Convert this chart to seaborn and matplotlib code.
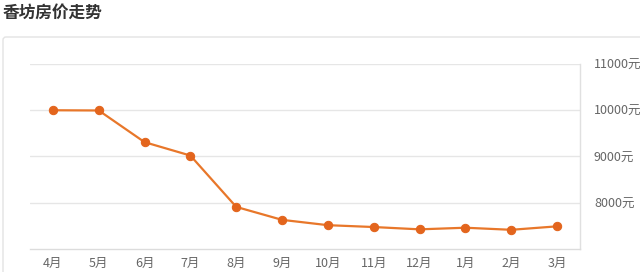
import matplotlib
matplotlib.use("Agg")
import matplotlib.pyplot as plt
import seaborn as sns
import pandas as pd
from matplotlib.patches import FancyBboxPatch

months = ["4月", "5月", "6月", "7月", "8月", "9月", "10月", "11月", "12月", "1月", "2月", "3月"]
prices = [10000, 9995, 9310, 9020, 7910, 7630, 7515, 7475, 7425, 7460, 7415, 7490]
y_ticks = [8000, 9000, 10000, 11000]
y_labels = ["8000元", "9000元", "10000元", "11000元"]
title = "香坊房价走势"

sns.set_theme(style="white")
plt.rcParams['font.family'] = ['Noto Sans CJK SC', 'DejaVu Sans']

df = pd.DataFrame({"month": months, "price": prices})
df["idx"] = range(len(months))

fig = plt.figure(figsize=(6.4, 2.72), dpi=100)
fig.patch.set_facecolor("white")

# background panel
bg = fig.add_axes([0, 0, 1, 1], zorder=-1)
bg.set_xlim(0, 640)
bg.set_ylim(272, 0)
bg.axis("off")
panel = FancyBboxPatch((3, 37), 700, 300,
                       boxstyle="round,pad=0,rounding_size=3",
                       facecolor="white", edgecolor="#e3e3e3", linewidth=1.0)
bg.add_patch(panel)
bg.text(3, 12.5, title, fontsize=12, fontweight="bold",
        color="#333333", va="center", ha="left")

ax = fig.add_axes([30/640, 23/272, 550/640, 185/272])
ax.set_facecolor("none")

sns.lineplot(data=df, x="idx", y="price", ax=ax, color="#E8772A",
             linewidth=1.6, marker="o", markersize=6,
             markerfacecolor="#E3651D", markeredgecolor="#E3651D", zorder=3)

ax.set_xlim(-0.5, len(months) - 0.5)
ax.set_ylim(7000, 11000)
ax.set_xticks(range(len(months)))
ax.set_xticklabels(months)
ax.yaxis.tick_right()
ax.set_yticks(y_ticks)
ax.set_yticklabels(y_labels)
ax.grid(axis="y", color="#e6e6e6", linewidth=1.0)
ax.set_xlabel("")
ax.set_ylabel("")

for s in ["top", "left"]:
    ax.spines[s].set_visible(False)
ax.spines["bottom"].set_color("#dcdcdc")
ax.spines["right"].set_color("#e0e0e0")
ax.spines["bottom"].set_linewidth(1.0)
ax.spines["right"].set_linewidth(1.0)

ax.tick_params(axis="x", length=3, width=0.8, color="#e0e0e0",
               labelsize=9, labelcolor="#666666", pad=6, direction="in")
ax.tick_params(axis="y", length=0, labelsize=9, labelcolor="#666666", pad=10)

fig.savefig("out.png", dpi=100, facecolor="white")
